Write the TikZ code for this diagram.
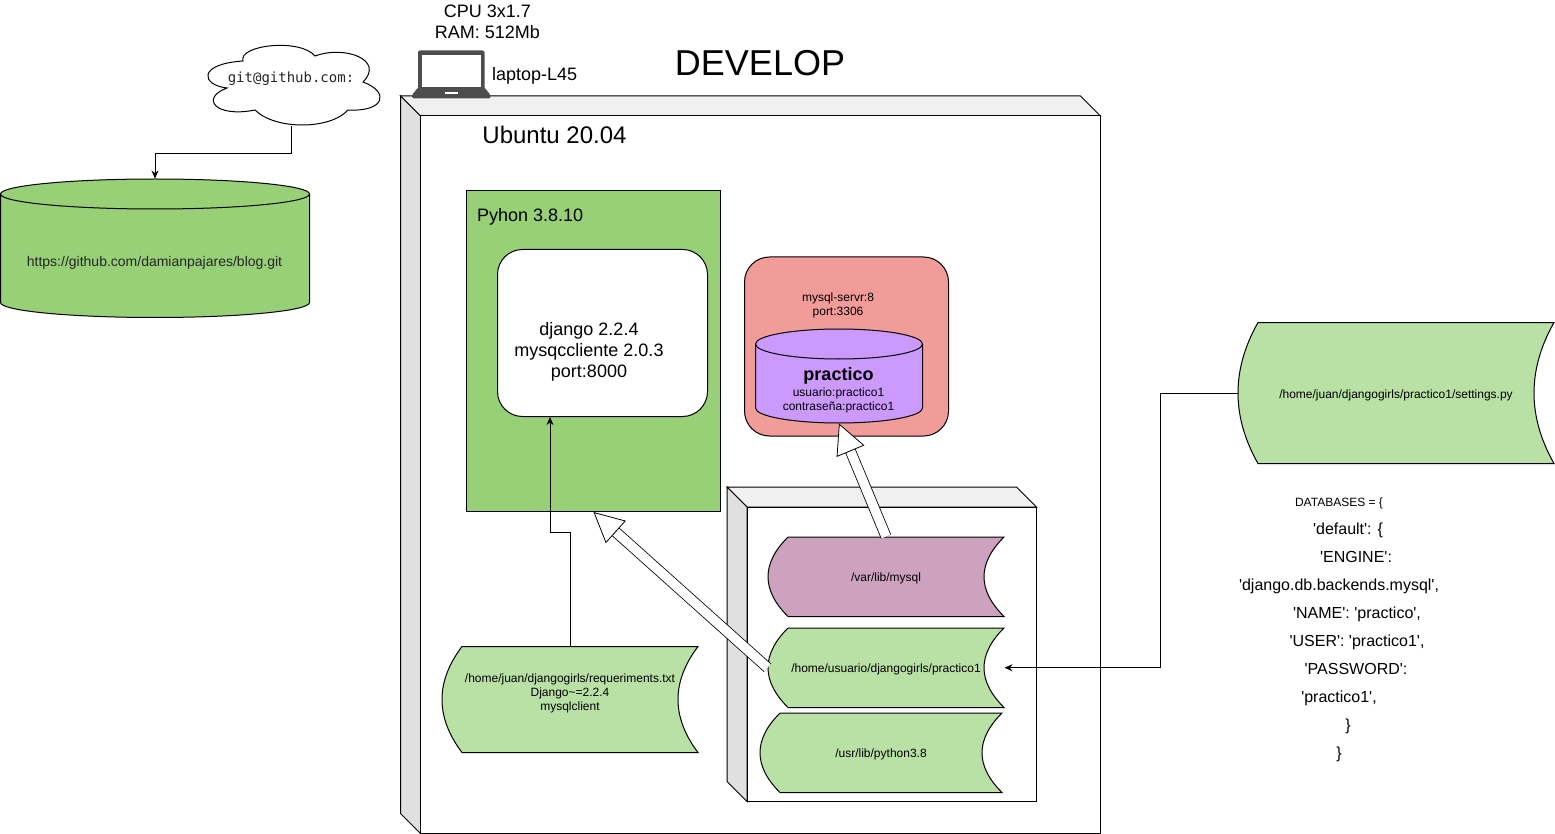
\documentclass[tikz,border=0pt]{standalone}
\usepackage{fontspec}
\setmainfont[Ligatures=TeXOff]{Liberation Sans}
\setmonofont{DejaVu Sans Mono}
\usetikzlibrary{arrows.meta,calc,positioning}
\definecolor{boxgreen}{HTML}{97D077}
\definecolor{filegreen}{HTML}{B9E0A5}
\definecolor{filepurple}{HTML}{CDA2BE}
\definecolor{dbpurple}{HTML}{CC99FF}
\definecolor{dbred}{HTML}{F19C99}
\definecolor{laptopgray}{HTML}{4D4D4D}
\tikzset{
  every path/.style={line width=1pt},
  line/.style={-{Stealth[length=8pt,width=7pt]}},
  hollow/.style={line width=0.8pt,double,double distance=9.4pt,
    -{Triangle[open,length=30pt,width=30pt,fill=white,line width=0.8pt]}},
  small/.style={font=\fontsize{12}{14}\selectfont,align=center,inner sep=0pt},
  large/.style={font=\fontsize{18}{21}\selectfont,align=center,inner sep=0pt},
  box/.style={inner sep=0pt}
}
% device box: name, left, top, right, bottom
\newcommand{\devicebox}[5]{
  \draw[fill=black!6] (#2,#3) -- (#4-20,#3) -- (#4,#3+20) -- (#2+20,#3+20) -- cycle;
  \draw[fill=black!12] (#2,#3) -- (#2+20,#3+20) -- (#2+20,#5) -- (#2,#5-20) -- cycle;
  \node[draw,fill=white,box,minimum width=#4pt-#2pt-20pt,minimum height=#5pt-#3pt-20pt]
    (#1) at (#2/2+#4/2+10,#3/2+#5/2+10) {};
}
% stored data: name, left, top, width, height, colour, text
\newcommand{\storeddata}[7]{
  \draw[fill=#6] (#2+20,#3) -- (#2+#4,#3)
    .. controls (#2+#4-26.67,#3+#5/3) and (#2+#4-26.67,#3+#5*2/3) .. (#2+#4,#3+#5)
    -- (#2+20,#3+#5)
    .. controls (#2-6.67,#3+#5*2/3) and (#2-6.67,#3+#5/3) .. (#2+20,#3) -- cycle;
  \node[box,minimum width=#4pt,minimum height=#5pt] (#1) at (#2+#4/2,#3+#5/2) {};
  \node[small,yshift=-2pt] (#1text) at (#1) {#7};
}
% database: name, left, top, width, height, colour
\newcommand{\database}[6]{
  \draw[fill=#6] (#2,#3+15) -- (#2,#3+#5-15)
    arc[start angle=180,end angle=360,x radius=#4pt/2,y radius=15pt]
    -- (#2+#4,#3+15)
    arc[start angle=0,end angle=180,x radius=#4pt/2,y radius=15pt] -- cycle;
  \draw (#2,#3+15) arc[start angle=180,end angle=360,x radius=#4pt/2,y radius=15pt];
  \node[box,minimum width=#4pt,minimum height=#5pt] (#1) at (#2+#4/2,#3+#5/2) {};
}

\begin{document}
\begin{tikzpicture}[x=1pt,y=-1pt]
  \useasboundingbox (0,0) rectangle (1555,834);
  % github
  \database{github}{0.5}{179}{309}{138.5}{boxgreen}
  \node[box,font=\fontsize{14}{16}\selectfont,text=black!85] (githubtext) at (154.5,263) {https://github.com/damianpajares/blog.git};
  \draw[fill=white] (227,88) .. controls (201,85) and (197,64) .. (243,61)
    .. controls (238,45) and (300,38) .. (315,56)
    .. controls (345,45) and (385,60) .. (363,82)
    .. controls (390,92) and (385,112) .. (348,110)
    .. controls (330,130) and (275,130) .. (255,110)
    .. controls (215,118) and (200,98) .. (227,88) -- cycle;
  \node[box,minimum width=172pt,minimum height=80pt] (cloud) at (291.5,86) {};
  \node[box,font=\fontsize{14}{16}\ttfamily\selectfont,text=black!85] (cloudtext) at (291,79) {git@github.com:};
  \draw[line] (cloud.south) -- +(0,27.5) -| (github.north);
  % ubuntu
  \devicebox{ubuntu}{400.5}{96}{1100.5}{833.5}
  \node[box,font=\fontsize{36}{40}\selectfont] (develop) at (760,63) {DEVELOP};
  \node[box,font=\fontsize{24}{28}\selectfont] (ubuntutext) at (554.5,135) {Ubuntu 20.04};
  % laptop
  \fill[laptopgray,rounded corners=2pt] (418,50.5) rectangle (484.5,92);
  \fill[white] (422,55) rectangle (480.5,87.5);
  \fill[laptopgray,rounded corners=1.5pt] (418,87.5) -- (484.5,87.5) -- (490.5,95) -- (490.5,98.5) -- (412,98.5) -- (412,95) -- cycle;
  \fill[white] (445,92) rectangle (458,94.5);
  \node[box,minimum width=78pt,minimum height=48pt] (laptop) at (451,74) {};
  \node[large,right=1pt of laptop,yshift=-2pt] (laptoptext) {laptop-L45};
  \node[large] (cpu) at (487.5,21.5) {CPU 3x1.7\\RAM: 512Mb};
  % python
  \node[draw,fill=boxgreen,box,minimum width=254pt,minimum height=321pt] (python) at (593.5,351) {};
  \node[box,font=\fontsize{18}{21}\selectfont,anchor=west] (pythontext) at (476.5,217) {Pyhon 3.8.10};
  \node[draw,fill=white,rounded corners=25pt,box,minimum width=210pt,minimum height=167pt] (django) at (602.5,333) {};
  \node[large] (djangotext) at (589,352) {django 2.2.4\\mysqccliente 2.0.3\\port:8000};
  % mysql
  \node[draw,fill=dbred,rounded corners=25pt,box,minimum width=204pt,minimum height=179pt] (mysql) at (846.5,346.5) {};
  \node[small] (mysqltext) at (838,305) {mysql-servr:8\\port:3306};
  \database{practico}{755.5}{329}{167}{94}{dbpurple}
  \node[small] (practicotext) at (838.5,400) {usuario:practico1\\contraseña:practico1};
  \node[box,font=\fontsize{18}{21}\bfseries\selectfont] (practiconame) at (838.5,376) {practico};
  % folders
  \devicebox{folders}{727}{487}{1036.5}{801.5}
  \storeddata{varmysql}{768}{537}{236}{79.5}{filepurple}{/var/lib/mysql}
  \storeddata{usuario}{768}{628}{236}{79.5}{filegreen}{/home/usuario/djangogirls/practico1}
  \storeddata{pythonlib}{760}{713}{242}{79.5}{filegreen}{/usr/lib/python3.8}
  \storeddata{requirements}{442}{646.5}{256}{106}{filegreen}{/home/juan/djangogirls/requeriments.txt\\Django\textasciitilde=2.2.4\\mysqlclient\\[4pt]\mbox{}}
  \storeddata{settings}{1238}{322.5}{316}{141}{filegreen}{/home/juan/djangogirls/practico1/settings.py}
  % lines
  \coordinate (turn) at (550,532);
  \draw[line] (requirements.north) |- (turn) -- (turn |- django.south);
  \coordinate (bend) at (1160,393);
  \draw[line] (settings.west) -- (bend) |- (usuario.east);
  \draw[hollow] (varmysql.north) -- (practico.south);
  \draw[hollow] (usuario.west) -- (python.south);
  % settings text
  \node[box,align=center,font=\fontsize{16}{28}\selectfont] (databases) at (1339,630) {%
    {\fontsize{12}{14}\selectfont DATABASES = \{}\\
    \hspace*{18pt}'default': \{\\
    \hspace*{34pt}'ENGINE':\\
    'django.db.backends.mysql',\\
    \hspace*{36pt}'NAME': 'practico',\\
    \hspace*{36pt}'USER': 'practico1',\\
    \hspace*{34pt}'PASSWORD':\\
    'practico1',\\
    \hspace*{18pt}\}\\
    \}};
\end{tikzpicture}
\end{document}
